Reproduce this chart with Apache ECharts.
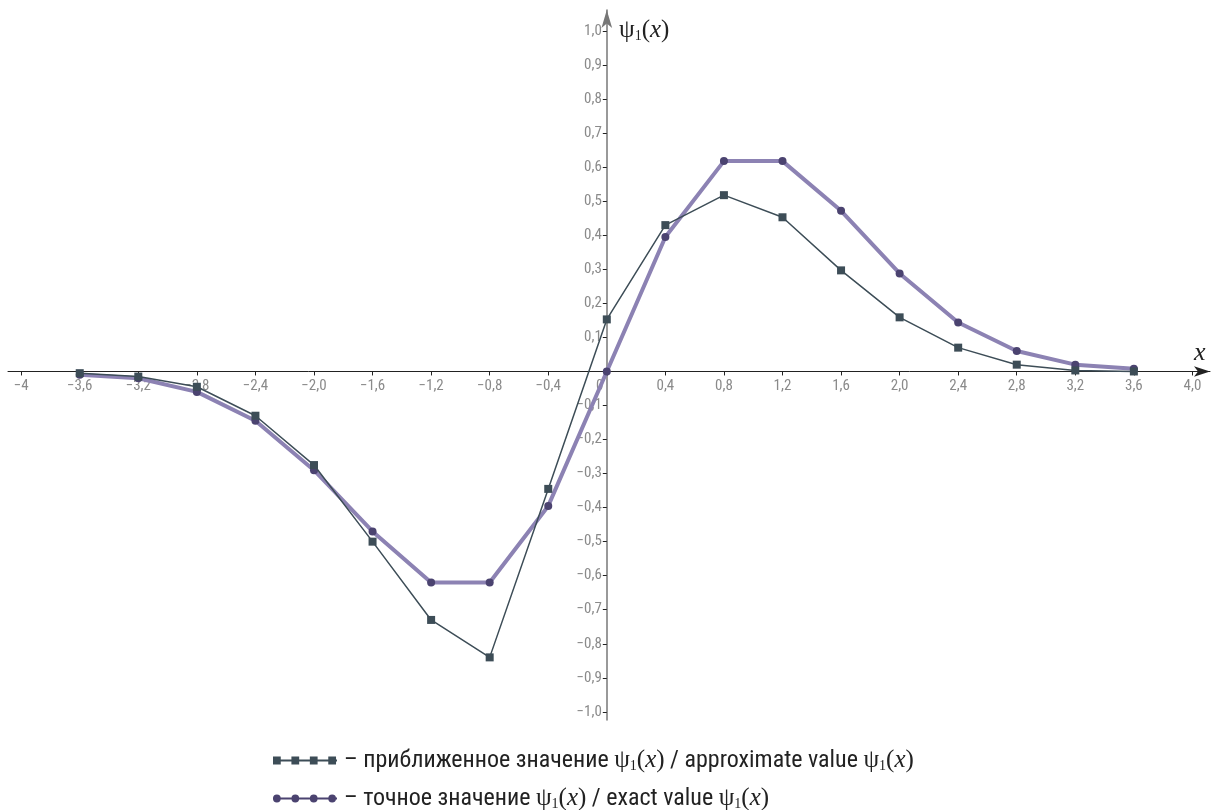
<!DOCTYPE html>
<html><head><meta charset="utf-8">
<script src="https://cdn.jsdelivr.net/npm/echarts@6/dist/echarts.min.js"></script>
<style>html,body{margin:0;padding:0;background:#fff}#c{width:1212px;height:810px}</style>
</head><body><div id="c"></div>
<script>
const xs = [-3.6,-3.2,-2.8,-2.4,-2.0,-1.6,-1.2,-0.8,-0.4,0,0.4,0.8,1.2,1.6,2.0,2.4,2.8,3.2,3.6];
const approx = [-0.005,-0.015,-0.045,-0.13,-0.275,-0.50,-0.73,-0.84,-0.345,0.153,0.43,0.518,0.453,0.297,0.159,0.07,0.02,0.003,0.0];
const exact = [-0.01,-0.02,-0.06,-0.145,-0.29,-0.47,-0.62,-0.62,-0.395,0,0.395,0.618,0.618,0.472,0.288,0.144,0.06,0.02,0.008];
const xTicks = [-4,-3.6,-3.2,-2.8,-2.4,-2.0,-1.6,-1.2,-0.8,-0.4,0,0.4,0.8,1.2,1.6,2.0,2.4,2.8,3.2,3.6,4.0];
const yTicks = [-1.0,-0.9,-0.8,-0.7,-0.6,-0.5,-0.4,-0.3,-0.2,-0.1,0.1,0.2,0.3,0.4,0.5,0.6,0.7,0.8,0.9,1.0];

const NARROW = "'Liberation Sans Narrow','Roboto Condensed','Roboto',sans-serif";
const SERIF = "'Liberation Serif','DejaVu Serif',serif";
function fmt(v){
  if (Math.abs(v) < 1e-9) return '0';
  let s = (v === -4) ? '-4' : v.toFixed(1);
  return s.replace('.', ',').replace('-', '\u2212');
}
// layout
const W = 1212, H = 810;
const gridL = 8, gridR = 2, gridT = 10, gridB = 90;
const xMin = -4.09, xMax = 4.12, yMin = -1.024, yMax = 1.062;
const gw = W - gridL - gridR, gh = H - gridT - gridB;
const xOff = -(0 - xMin) / (xMax - xMin) * gw;      // move y axis to x=0
const yOff = -(0 - yMin) / (yMax - yMin) * gh;      // move x axis to y=0

const chart = echarts.init(document.getElementById('c'));
const psi = '{n|ψ}{s|1}{n|(}{i|x}{n|)}';
const legRich = {
  t:{fontFamily:NARROW,fontSize:24,color:'#222'},
  n:{fontFamily:SERIF,fontSize:25,color:'#222'},
  s:{fontFamily:SERIF,fontSize:14,color:'#222',verticalAlign:'bottom',padding:[12,0,0,0]},
  i:{fontFamily:SERIF,fontSize:25,fontStyle:'italic',color:'#222'}
};
const legendText = {
  approx: '{t|– приближенное значение }' + psi + '{t| / approximate value }' + psi,
  exact: '{t|– точное значение }' + psi + '{t| / exact value }' + psi
};
const legendBase = {
  orient:'horizontal', left:268, itemWidth:64, itemHeight:10, itemGap:8,
  formatter:function(n){ return legendText[n]; },
  textStyle:{rich:legRich, padding:[0,0,0,2]}
};
chart.setOption({
  animation:false,
  grid:{left:gridL, right:gridR, top:gridT, bottom:gridB, containLabel:false, outerBoundsMode:'none'},
  xAxis:{
    type:'value', min:xMin, max:xMax, position:'bottom', offset:yOff,
    axisLine:{onZero:false, lineStyle:{color:'#222', width:1}, symbol:['none','arrow'], symbolSize:[8,16]},
    axisTick:{show:true, customValues:xTicks, length:4, lineStyle:{color:'#222'}},
    axisLabel:{customValues:xTicks, color:'#8a8a8a', fontFamily:NARROW, fontSize:15, margin:7, hideOverlap:false,
      formatter:function(v){ return Math.abs(v)<1e-9 ? '{z|0}' : fmt(v); },
      rich:{z:{color:'#8a8a8a', fontFamily:NARROW, fontSize:15, padding:[0,14,0,0]}}},
    splitLine:{show:false}
  },
  yAxis:{
    type:'value', min:yMin, max:yMax, position:'left', offset:xOff,
    axisLine:{onZero:false, lineStyle:{color:'#777', width:1.5}, symbol:['none','arrow'], symbolSize:[8,18]},
    axisTick:{show:true, customValues:yTicks, length:4, lineStyle:{color:'#222'}},
    axisLabel:{customValues:yTicks, color:'#8a8a8a', fontFamily:NARROW, fontSize:15, margin:5, formatter:fmt, hideOverlap:false},
    splitLine:{show:false}
  },
  legend:[
    Object.assign({}, legendBase, {top:743, data:[{name:'approx', icon:'path://M0,4h66v2h-66z M0,1h8v8h-8z M19,1h8v8h-8z M38,1h8v8h-8z M57,1h8v8h-8z'}]}),
    Object.assign({}, legendBase, {top:781, data:[{name:'exact', icon:'path://M0,4h66v2h-66z M0,5a4,4 0 1,1 8,0a4,4 0 1,1 -8,0z M19,5a4,4 0 1,1 8,0a4,4 0 1,1 -8,0z M38,5a4,4 0 1,1 8,0a4,4 0 1,1 -8,0z M57,5a4,4 0 1,1 8,0a4,4 0 1,1 -8,0z'}]})
  ],
  graphic:[
    {type:'text', left:619, top:18, style:{text:psi, rich:{n:{fontFamily:SERIF,fontSize:25,fill:'#222'},s:{fontFamily:SERIF,fontSize:14,fill:'#222',verticalAlign:'bottom',padding:[12,0,0,0]},i:{fontFamily:SERIF,fontSize:25,fontStyle:'italic',fill:'#222'}}}},
    {type:'text', left:1194, top:340, style:{text:'x', font:'italic 26px '+SERIF, fill:'#222'}}
  ],
  series:[
    {name:'exact', type:'line', data:xs.map((x,i)=>[x,exact[i]]), symbol:'circle', symbolSize:8,
     lineStyle:{color:'#8c82b3', width:4}, itemStyle:{color:'#4b4370'}, z:2},
    {name:'approx', type:'line', data:xs.map((x,i)=>[x,approx[i]]), symbol:'rect', symbolSize:8,
     lineStyle:{color:'#3d4d57', width:1.5}, itemStyle:{color:'#3d4d57'}, z:3}
  ]
});
</script></body></html>
